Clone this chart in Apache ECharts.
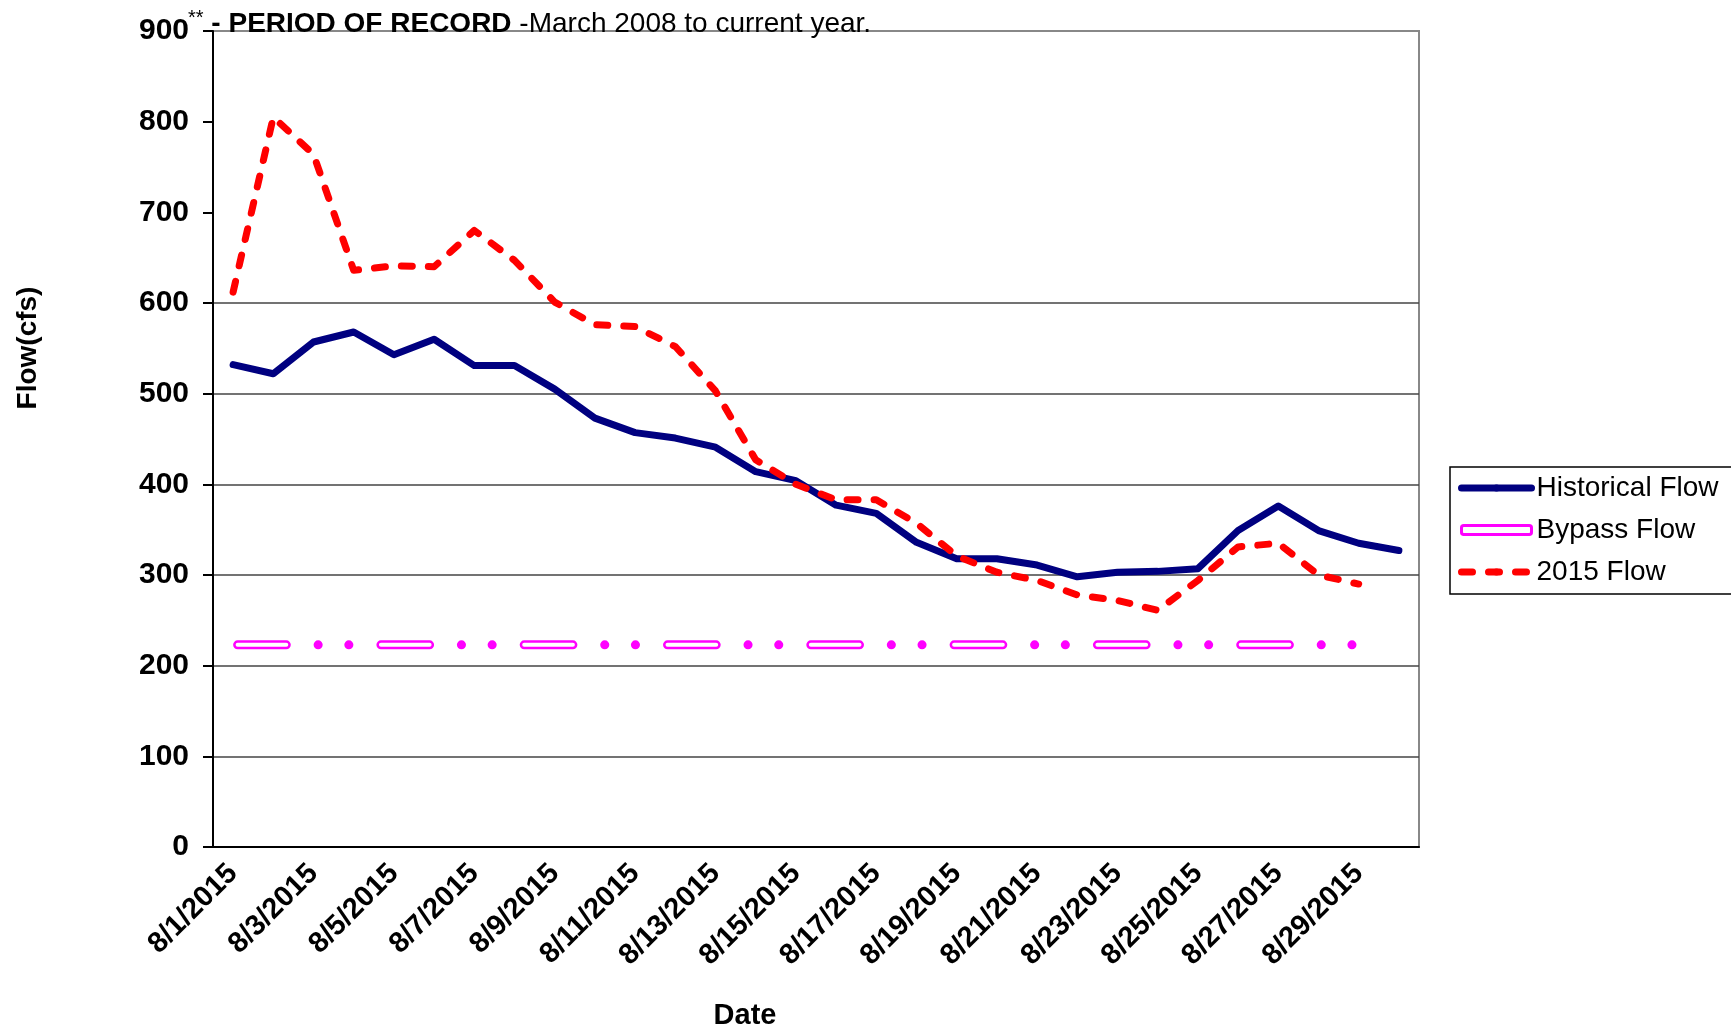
<!DOCTYPE html>
<html>
<head>
<meta charset="utf-8">
<script src="https://cdn.jsdelivr.net/npm/echarts@6/dist/echarts.min.js"></script>
<style>
  html, body { margin: 0; padding: 0; background: #fff; }
  #chart { width: 1731px; height: 1033px; }
</style>
</head>
<body>
<div id="chart"></div>
<script>
// categories (one per day)
var dates = [
  '8/1/2015', '8/2/2015', '8/3/2015', '8/4/2015', '8/5/2015', '8/6/2015',
  '8/7/2015', '8/8/2015', '8/9/2015', '8/10/2015', '8/11/2015', '8/12/2015',
  '8/13/2015', '8/14/2015', '8/15/2015', '8/16/2015', '8/17/2015', '8/18/2015',
  '8/19/2015', '8/20/2015', '8/21/2015', '8/22/2015', '8/23/2015', '8/24/2015',
  '8/25/2015', '8/26/2015', '8/27/2015', '8/28/2015', '8/29/2015', '8/30/2015'
];

// flows (cfs)
var historicalFlow = [
  532, 522, 557, 568, 543, 560, 531, 531, 505, 473,
  457, 451, 441, 414, 404, 377, 368, 336, 318, 318,
  311, 298, 303, 304, 307, 349, 376, 349, 335, 327
];
var bypassFlow = [
  223, 223, 223, 223, 223, 223, 223, 223, 223, 223,
  223, 223, 223, 223, 223, 223, 223, 223, 223, 223,
  223, 223, 223, 223, 223, 223, 223, 223, 223
];
var flow2015 = [
  612, 805, 764, 636, 641, 640, 680, 647, 601, 576,
  574, 552, 503, 427, 400, 383, 383, 357, 321, 303,
  294, 278, 272, 261, 294, 331, 335, 300, 290
];

var FONT = 'Liberation Sans';

var chart = echarts.init(document.getElementById('chart'));

chart.setOption({
  backgroundColor: '#fff',
  animation: false,
  title: {
    left: 183,
    top: 3,
    text: '{s|**}{b| - PERIOD OF RECORD }{n|-March 2008 to current year.}',
    textStyle: {
      fontWeight: 'normal',
      rich: {
        s: { fontSize: 20, fontFamily: FONT, fontWeight: 'normal', color: '#000', padding: [0, 0, 12, 0] },
        b: { fontSize: 28, fontFamily: FONT, fontWeight: 'bold', color: '#000' },
        n: { fontSize: 28, fontFamily: FONT, fontWeight: 'normal', color: '#000' }
      }
    }
  },
  legend: {
    orient: 'vertical',
    left: 1450,
    top: 467,
    padding: [6, 60, 7, 8],
    itemGap: 12,
    itemWidth: 70,
    itemHeight: 9,
    borderColor: '#000',
    borderWidth: 1.5,
    borderRadius: 0,
    lineStyle: { width: 7 },
    textStyle: { fontSize: 28, fontFamily: FONT, color: '#000', lineHeight: 30 },
    data: [
      { name: 'Historical Flow' },
      {
        name: 'Bypass Flow',
        icon: 'roundRect',
        itemStyle: { color: '#fff', borderColor: '#FF00FF', borderWidth: 3 }
      },
      { name: '2015 Flow' }
    ]
  },
  grid: {
    left: 213,
    right: 312,
    top: 31,
    bottom: 186,
    show: true,
    borderColor: '#888',
    borderWidth: 2,
    outerBoundsMode: 'none'
  },
  xAxis: {
    type: 'category',
    data: dates,
    boundaryGap: true,
    axisLine: { lineStyle: { color: '#000', width: 2 } },
    axisTick: { interval: 1, length: 8, lineStyle: { color: '#000', width: 2 } },
    axisLabel: {
      interval: 1,
      rotate: 45,
      margin: 22,
      fontSize: 29,
      fontWeight: 'bold',
      fontFamily: FONT,
      color: '#000'
    },
    splitLine: { show: false }
  },
  yAxis: {
    type: 'value',
    min: 0,
    max: 900,
    interval: 100,
    axisLine: { show: true, lineStyle: { color: '#000', width: 2 } },
    axisTick: { show: true, length: 10, lineStyle: { color: '#000', width: 2 } },
    axisLabel: {
      margin: 24,
      fontSize: 30,
      fontWeight: 'bold',
      fontFamily: FONT,
      color: '#000'
    },
    splitLine: {
      show: true,
      lineStyle: {
        // 0 .. 900: no lines at 700/800 in the original, top one is the frame
        color: ['rgba(0,0,0,0)', '#444', '#444', '#444', '#444', '#444', '#444',
                'rgba(0,0,0,0)', 'rgba(0,0,0,0)', '#888'],
        width: 1.5
      }
    }
  },
  graphic: [
    {
      type: 'text',
      x: 28,
      y: 348,
      rotation: Math.PI / 2,
      style: {
        text: 'Flow(cfs)',
        fontSize: 28,
        fontWeight: 'bold',
        fontFamily: FONT,
        fill: '#000',
        align: 'center',
        verticalAlign: 'middle'
      }
    },
    {
      type: 'text',
      x: 745,
      y: 1016,
      style: {
        text: 'Date',
        fontSize: 29,
        fontWeight: 'bold',
        fontFamily: FONT,
        fill: '#000',
        align: 'center',
        verticalAlign: 'middle'
      }
    }
  ],
  series: [
    {
      name: 'Historical Flow',
      type: 'line',
      data: historicalFlow,
      symbol: 'none',
      itemStyle: { color: '#000080' },
      lineStyle: { color: '#000080', width: 7, join: 'round', cap: 'round' }
    },
    {
      name: 'Bypass Flow',
      type: 'line',
      data: bypassFlow,
      symbol: 'none',
      itemStyle: { color: '#FF00FF' },
      lineStyle: {
        color: '#FF00FF',
        width: 9,
        type: [48.7, 31.8, 0.1, 30.6, 0.1, 32.0],
        dashOffset: -4.5,
        cap: 'round'
      }
    },
    {
      // white core that makes the long dashes look hollow
      name: 'Bypass core',
      type: 'line',
      data: bypassFlow,
      symbol: 'none',
      silent: true,
      itemStyle: { color: '#fff' },
      lineStyle: { color: '#fff', width: 4, type: [48.7, 94.6], dashOffset: -4.5, cap: 'round' }
    },
    {
      name: '2015 Flow',
      type: 'line',
      data: flow2015,
      symbol: 'none',
      itemStyle: { color: '#FF0000' },
      lineStyle: { color: '#FF0000', width: 7, type: [11, 16], cap: 'round', join: 'round' }
    }
  ]
});
</script>
</body>
</html>
